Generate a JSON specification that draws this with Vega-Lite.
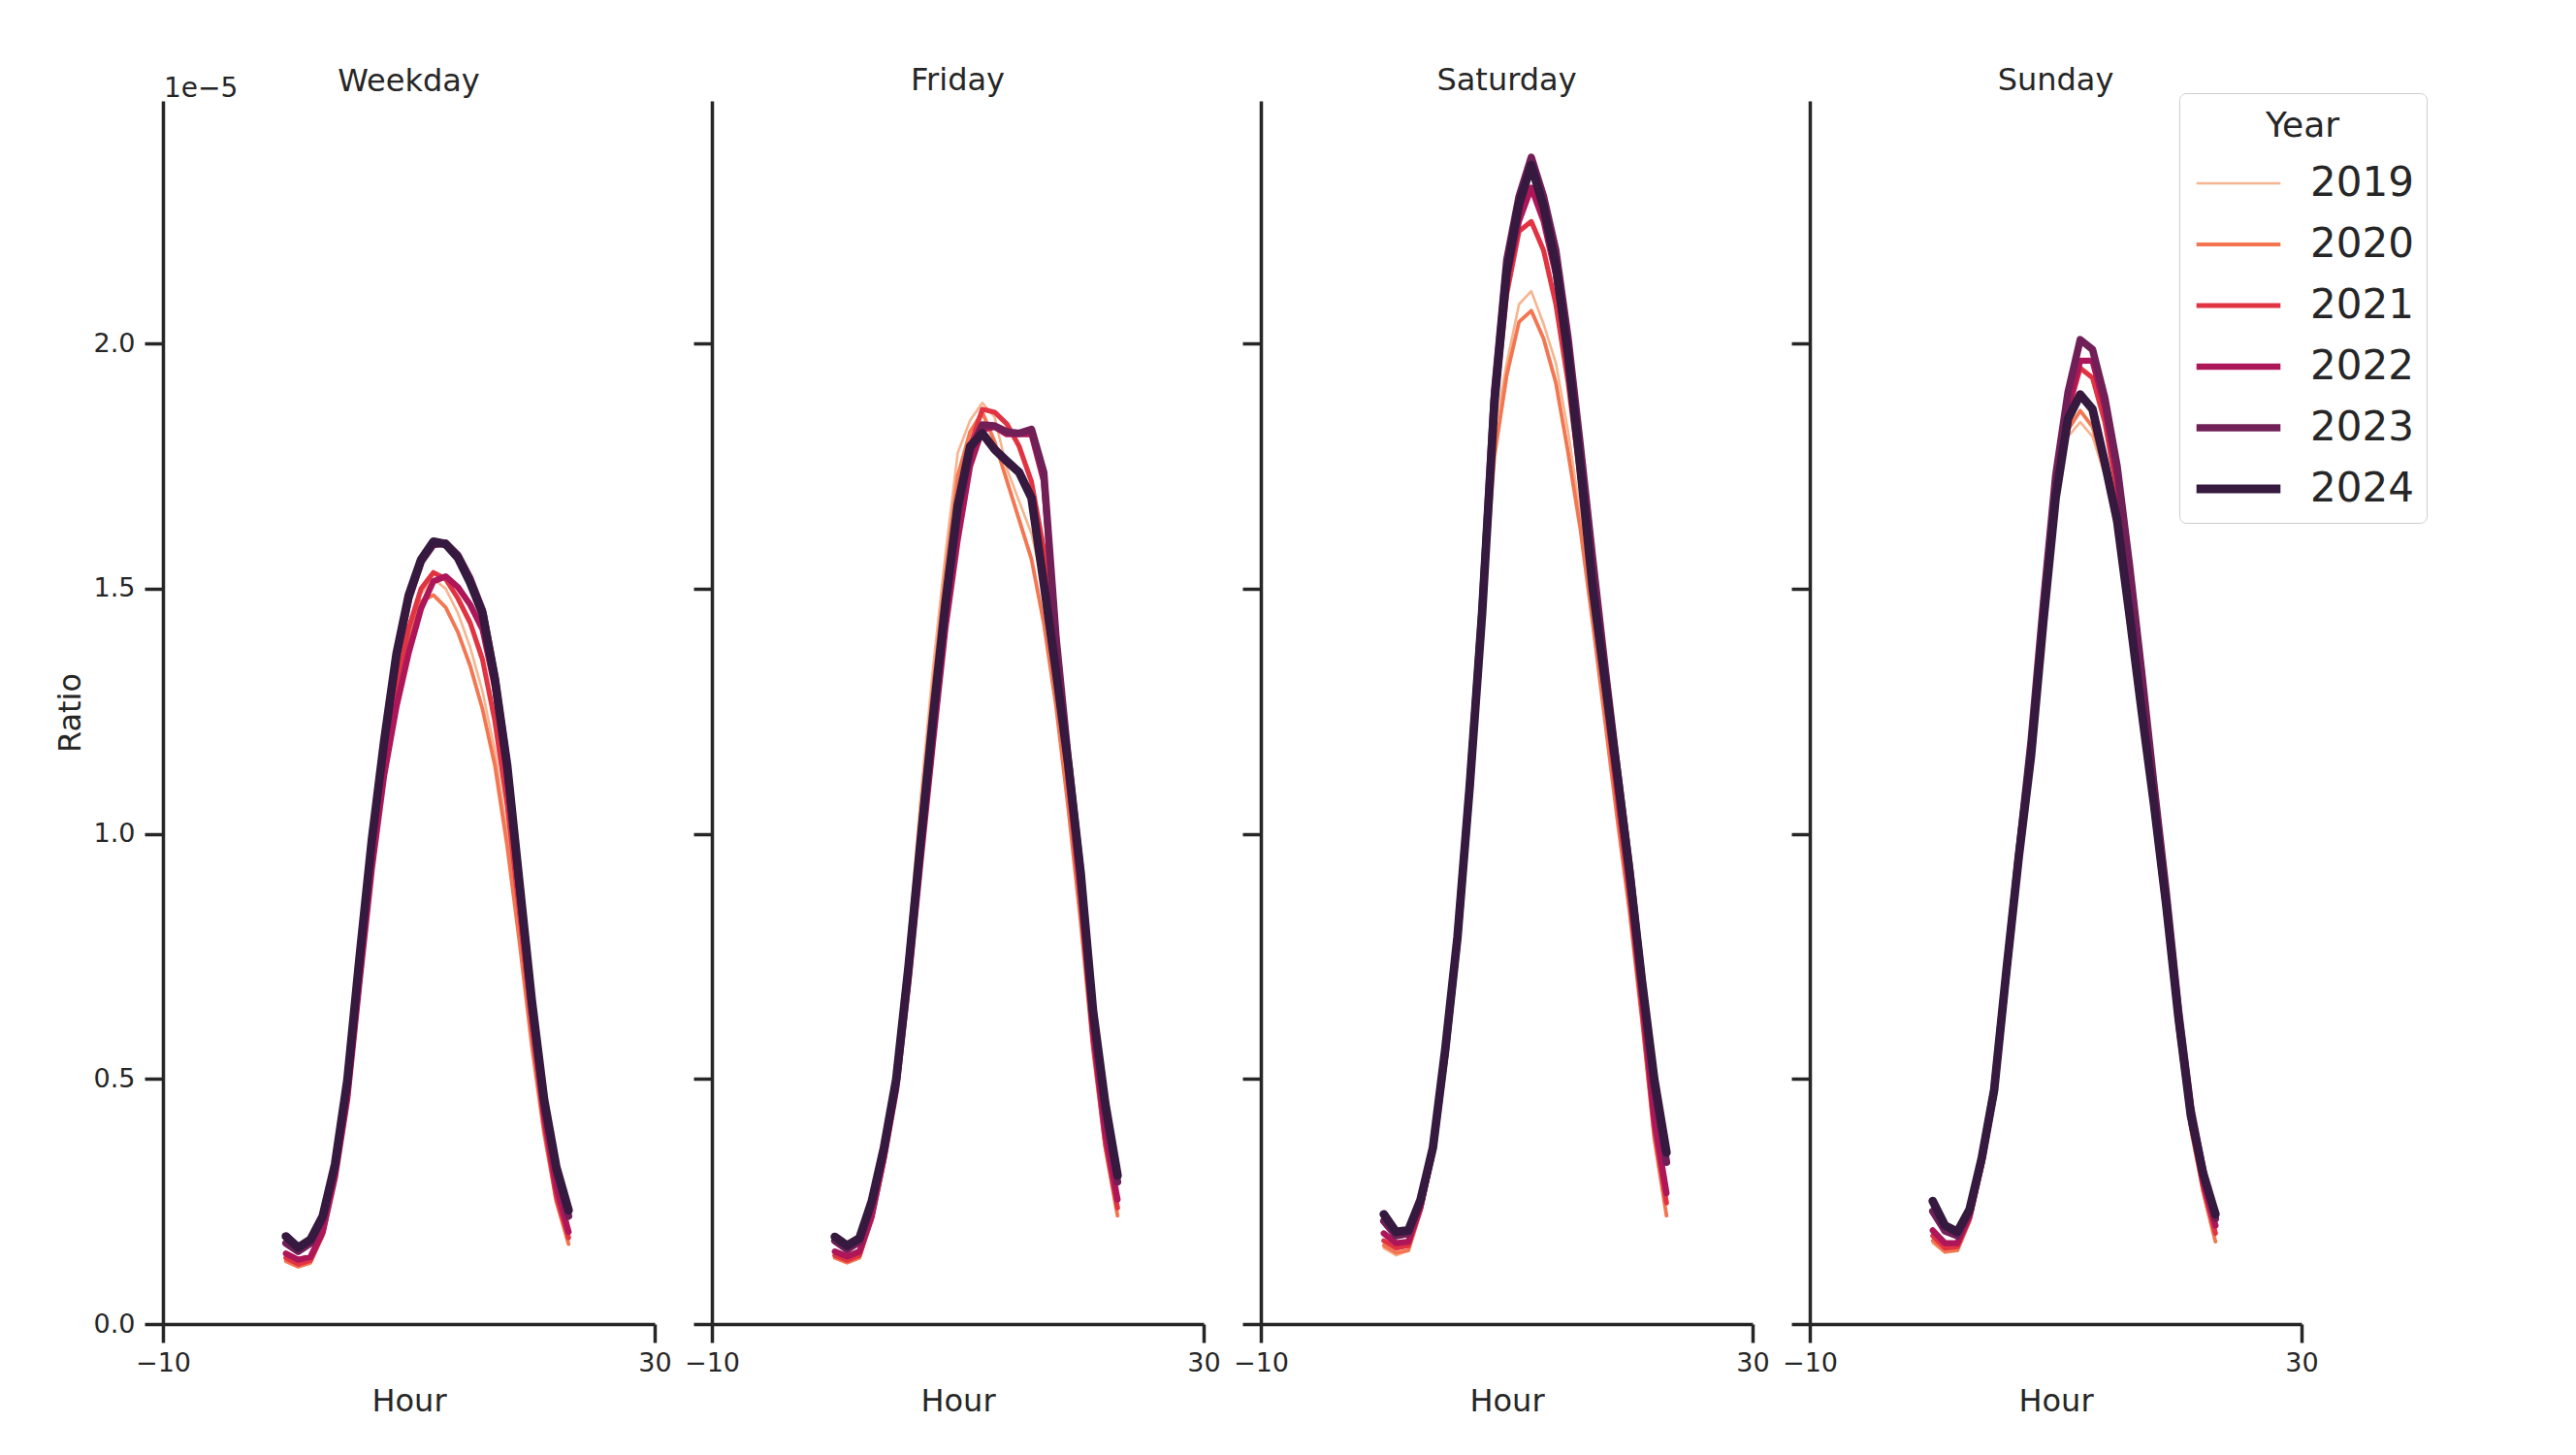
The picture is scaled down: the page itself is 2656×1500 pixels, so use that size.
{
"$schema":"https://vega.github.io/schema/vega-lite/v6.json",
"background":"white",
"padding":{"left":56,"top":67,"right":5,"bottom":5},
"bounds":"flush",
"spacing":59,
"data":{"values":[
{"Day":"Weekday","Year":2019,"Hour":0,"Ratio":0.13e-5},{"Day":"Weekday","Year":2019,"Hour":1,"Ratio":0.12e-5},{"Day":"Weekday","Year":2019,"Hour":2,"Ratio":0.128e-5},{"Day":"Weekday","Year":2019,"Hour":3,"Ratio":0.185e-5},{"Day":"Weekday","Year":2019,"Hour":4,"Ratio":0.31e-5},{"Day":"Weekday","Year":2019,"Hour":5,"Ratio":0.47e-5},{"Day":"Weekday","Year":2019,"Hour":6,"Ratio":0.71e-5},{"Day":"Weekday","Year":2019,"Hour":7,"Ratio":0.95e-5},{"Day":"Weekday","Year":2019,"Hour":8,"Ratio":1.14e-5},{"Day":"Weekday","Year":2019,"Hour":9,"Ratio":1.30e-5},{"Day":"Weekday","Year":2019,"Hour":10,"Ratio":1.41e-5},{"Day":"Weekday","Year":2019,"Hour":11,"Ratio":1.49e-5},{"Day":"Weekday","Year":2019,"Hour":12,"Ratio":1.52e-5},{"Day":"Weekday","Year":2019,"Hour":13,"Ratio":1.50e-5},{"Day":"Weekday","Year":2019,"Hour":14,"Ratio":1.45e-5},{"Day":"Weekday","Year":2019,"Hour":15,"Ratio":1.38e-5},{"Day":"Weekday","Year":2019,"Hour":16,"Ratio":1.29e-5},{"Day":"Weekday","Year":2019,"Hour":17,"Ratio":1.17e-5},{"Day":"Weekday","Year":2019,"Hour":18,"Ratio":1.0e-5},{"Day":"Weekday","Year":2019,"Hour":19,"Ratio":0.80e-5},{"Day":"Weekday","Year":2019,"Hour":20,"Ratio":0.585e-5},{"Day":"Weekday","Year":2019,"Hour":21,"Ratio":0.40e-5},{"Day":"Weekday","Year":2019,"Hour":22,"Ratio":0.255e-5},{"Day":"Weekday","Year":2019,"Hour":23,"Ratio":0.168e-5},
{"Day":"Weekday","Year":2020,"Hour":0,"Ratio":0.128e-5},{"Day":"Weekday","Year":2020,"Hour":1,"Ratio":0.117e-5},{"Day":"Weekday","Year":2020,"Hour":2,"Ratio":0.125e-5},{"Day":"Weekday","Year":2020,"Hour":3,"Ratio":0.18e-5},{"Day":"Weekday","Year":2020,"Hour":4,"Ratio":0.30e-5},{"Day":"Weekday","Year":2020,"Hour":5,"Ratio":0.46e-5},{"Day":"Weekday","Year":2020,"Hour":6,"Ratio":0.70e-5},{"Day":"Weekday","Year":2020,"Hour":7,"Ratio":0.94e-5},{"Day":"Weekday","Year":2020,"Hour":8,"Ratio":1.13e-5},{"Day":"Weekday","Year":2020,"Hour":9,"Ratio":1.29e-5},{"Day":"Weekday","Year":2020,"Hour":10,"Ratio":1.40e-5},{"Day":"Weekday","Year":2020,"Hour":11,"Ratio":1.474e-5},{"Day":"Weekday","Year":2020,"Hour":12,"Ratio":1.487e-5},{"Day":"Weekday","Year":2020,"Hour":13,"Ratio":1.462e-5},{"Day":"Weekday","Year":2020,"Hour":14,"Ratio":1.411e-5},{"Day":"Weekday","Year":2020,"Hour":15,"Ratio":1.342e-5},{"Day":"Weekday","Year":2020,"Hour":16,"Ratio":1.254e-5},{"Day":"Weekday","Year":2020,"Hour":17,"Ratio":1.14e-5},{"Day":"Weekday","Year":2020,"Hour":18,"Ratio":0.976e-5},{"Day":"Weekday","Year":2020,"Hour":19,"Ratio":0.78e-5},{"Day":"Weekday","Year":2020,"Hour":20,"Ratio":0.57e-5},{"Day":"Weekday","Year":2020,"Hour":21,"Ratio":0.39e-5},{"Day":"Weekday","Year":2020,"Hour":22,"Ratio":0.25e-5},{"Day":"Weekday","Year":2020,"Hour":23,"Ratio":0.163e-5},
{"Day":"Weekday","Year":2021,"Hour":0,"Ratio":0.135e-5},{"Day":"Weekday","Year":2021,"Hour":1,"Ratio":0.122e-5},{"Day":"Weekday","Year":2021,"Hour":2,"Ratio":0.13e-5},{"Day":"Weekday","Year":2021,"Hour":3,"Ratio":0.185e-5},{"Day":"Weekday","Year":2021,"Hour":4,"Ratio":0.30e-5},{"Day":"Weekday","Year":2021,"Hour":5,"Ratio":0.46e-5},{"Day":"Weekday","Year":2021,"Hour":6,"Ratio":0.70e-5},{"Day":"Weekday","Year":2021,"Hour":7,"Ratio":0.94e-5},{"Day":"Weekday","Year":2021,"Hour":8,"Ratio":1.13e-5},{"Day":"Weekday","Year":2021,"Hour":9,"Ratio":1.30e-5},{"Day":"Weekday","Year":2021,"Hour":10,"Ratio":1.42e-5},{"Day":"Weekday","Year":2021,"Hour":11,"Ratio":1.50e-5},{"Day":"Weekday","Year":2021,"Hour":12,"Ratio":1.533e-5},{"Day":"Weekday","Year":2021,"Hour":13,"Ratio":1.52e-5},{"Day":"Weekday","Year":2021,"Hour":14,"Ratio":1.48e-5},{"Day":"Weekday","Year":2021,"Hour":15,"Ratio":1.43e-5},{"Day":"Weekday","Year":2021,"Hour":16,"Ratio":1.355e-5},{"Day":"Weekday","Year":2021,"Hour":17,"Ratio":1.23e-5},{"Day":"Weekday","Year":2021,"Hour":18,"Ratio":1.06e-5},{"Day":"Weekday","Year":2021,"Hour":19,"Ratio":0.84e-5},{"Day":"Weekday","Year":2021,"Hour":20,"Ratio":0.61e-5},{"Day":"Weekday","Year":2021,"Hour":21,"Ratio":0.41e-5},{"Day":"Weekday","Year":2021,"Hour":22,"Ratio":0.26e-5},{"Day":"Weekday","Year":2021,"Hour":23,"Ratio":0.176e-5},
{"Day":"Weekday","Year":2022,"Hour":0,"Ratio":0.144e-5},{"Day":"Weekday","Year":2022,"Hour":1,"Ratio":0.131e-5},{"Day":"Weekday","Year":2022,"Hour":2,"Ratio":0.137e-5},{"Day":"Weekday","Year":2022,"Hour":3,"Ratio":0.188e-5},{"Day":"Weekday","Year":2022,"Hour":4,"Ratio":0.30e-5},{"Day":"Weekday","Year":2022,"Hour":5,"Ratio":0.46e-5},{"Day":"Weekday","Year":2022,"Hour":6,"Ratio":0.70e-5},{"Day":"Weekday","Year":2022,"Hour":7,"Ratio":0.93e-5},{"Day":"Weekday","Year":2022,"Hour":8,"Ratio":1.12e-5},{"Day":"Weekday","Year":2022,"Hour":9,"Ratio":1.26e-5},{"Day":"Weekday","Year":2022,"Hour":10,"Ratio":1.37e-5},{"Day":"Weekday","Year":2022,"Hour":11,"Ratio":1.46e-5},{"Day":"Weekday","Year":2022,"Hour":12,"Ratio":1.515e-5},{"Day":"Weekday","Year":2022,"Hour":13,"Ratio":1.525e-5},{"Day":"Weekday","Year":2022,"Hour":14,"Ratio":1.503e-5},{"Day":"Weekday","Year":2022,"Hour":15,"Ratio":1.467e-5},{"Day":"Weekday","Year":2022,"Hour":16,"Ratio":1.417e-5},{"Day":"Weekday","Year":2022,"Hour":17,"Ratio":1.30e-5},{"Day":"Weekday","Year":2022,"Hour":18,"Ratio":1.12e-5},{"Day":"Weekday","Year":2022,"Hour":19,"Ratio":0.88e-5},{"Day":"Weekday","Year":2022,"Hour":20,"Ratio":0.64e-5},{"Day":"Weekday","Year":2022,"Hour":21,"Ratio":0.43e-5},{"Day":"Weekday","Year":2022,"Hour":22,"Ratio":0.28e-5},{"Day":"Weekday","Year":2022,"Hour":23,"Ratio":0.188e-5},
{"Day":"Weekday","Year":2023,"Hour":0,"Ratio":0.165e-5},{"Day":"Weekday","Year":2023,"Hour":1,"Ratio":0.148e-5},{"Day":"Weekday","Year":2023,"Hour":2,"Ratio":0.165e-5},{"Day":"Weekday","Year":2023,"Hour":3,"Ratio":0.215e-5},{"Day":"Weekday","Year":2023,"Hour":4,"Ratio":0.325e-5},{"Day":"Weekday","Year":2023,"Hour":5,"Ratio":0.495e-5},{"Day":"Weekday","Year":2023,"Hour":6,"Ratio":0.745e-5},{"Day":"Weekday","Year":2023,"Hour":7,"Ratio":0.985e-5},{"Day":"Weekday","Year":2023,"Hour":8,"Ratio":1.185e-5},{"Day":"Weekday","Year":2023,"Hour":9,"Ratio":1.36e-5},{"Day":"Weekday","Year":2023,"Hour":10,"Ratio":1.48e-5},{"Day":"Weekday","Year":2023,"Hour":11,"Ratio":1.555e-5},{"Day":"Weekday","Year":2023,"Hour":12,"Ratio":1.59e-5},{"Day":"Weekday","Year":2023,"Hour":13,"Ratio":1.593e-5},{"Day":"Weekday","Year":2023,"Hour":14,"Ratio":1.568e-5},{"Day":"Weekday","Year":2023,"Hour":15,"Ratio":1.52e-5},{"Day":"Weekday","Year":2023,"Hour":16,"Ratio":1.455e-5},{"Day":"Weekday","Year":2023,"Hour":17,"Ratio":1.32e-5},{"Day":"Weekday","Year":2023,"Hour":18,"Ratio":1.14e-5},{"Day":"Weekday","Year":2023,"Hour":19,"Ratio":0.89e-5},{"Day":"Weekday","Year":2023,"Hour":20,"Ratio":0.65e-5},{"Day":"Weekday","Year":2023,"Hour":21,"Ratio":0.45e-5},{"Day":"Weekday","Year":2023,"Hour":22,"Ratio":0.31e-5},{"Day":"Weekday","Year":2023,"Hour":23,"Ratio":0.22e-5},
{"Day":"Weekday","Year":2024,"Hour":0,"Ratio":0.179e-5},{"Day":"Weekday","Year":2024,"Hour":1,"Ratio":0.156e-5},{"Day":"Weekday","Year":2024,"Hour":2,"Ratio":0.172e-5},{"Day":"Weekday","Year":2024,"Hour":3,"Ratio":0.22e-5},{"Day":"Weekday","Year":2024,"Hour":4,"Ratio":0.326e-5},{"Day":"Weekday","Year":2024,"Hour":5,"Ratio":0.497e-5},{"Day":"Weekday","Year":2024,"Hour":6,"Ratio":0.749e-5},{"Day":"Weekday","Year":2024,"Hour":7,"Ratio":0.989e-5},{"Day":"Weekday","Year":2024,"Hour":8,"Ratio":1.19e-5},{"Day":"Weekday","Year":2024,"Hour":9,"Ratio":1.367e-5},{"Day":"Weekday","Year":2024,"Hour":10,"Ratio":1.487e-5},{"Day":"Weekday","Year":2024,"Hour":11,"Ratio":1.559e-5},{"Day":"Weekday","Year":2024,"Hour":12,"Ratio":1.596e-5},{"Day":"Weekday","Year":2024,"Hour":13,"Ratio":1.591e-5},{"Day":"Weekday","Year":2024,"Hour":14,"Ratio":1.563e-5},{"Day":"Weekday","Year":2024,"Hour":15,"Ratio":1.512e-5},{"Day":"Weekday","Year":2024,"Hour":16,"Ratio":1.449e-5},{"Day":"Weekday","Year":2024,"Hour":17,"Ratio":1.316e-5},{"Day":"Weekday","Year":2024,"Hour":18,"Ratio":1.14e-5},{"Day":"Weekday","Year":2024,"Hour":19,"Ratio":0.90e-5},{"Day":"Weekday","Year":2024,"Hour":20,"Ratio":0.661e-5},{"Day":"Weekday","Year":2024,"Hour":21,"Ratio":0.459e-5},{"Day":"Weekday","Year":2024,"Hour":22,"Ratio":0.32e-5},{"Day":"Weekday","Year":2024,"Hour":23,"Ratio":0.232e-5},
{"Day":"Friday","Year":2019,"Hour":0,"Ratio":0.135e-5},{"Day":"Friday","Year":2019,"Hour":1,"Ratio":0.125e-5},{"Day":"Friday","Year":2019,"Hour":2,"Ratio":0.135e-5},{"Day":"Friday","Year":2019,"Hour":3,"Ratio":0.22e-5},{"Day":"Friday","Year":2019,"Hour":4,"Ratio":0.35e-5},{"Day":"Friday","Year":2019,"Hour":5,"Ratio":0.52e-5},{"Day":"Friday","Year":2019,"Hour":6,"Ratio":0.78e-5},{"Day":"Friday","Year":2019,"Hour":7,"Ratio":1.08e-5},{"Day":"Friday","Year":2019,"Hour":8,"Ratio":1.34e-5},{"Day":"Friday","Year":2019,"Hour":9,"Ratio":1.57e-5},{"Day":"Friday","Year":2019,"Hour":10,"Ratio":1.777e-5},{"Day":"Friday","Year":2019,"Hour":11,"Ratio":1.843e-5},{"Day":"Friday","Year":2019,"Hour":12,"Ratio":1.879e-5},{"Day":"Friday","Year":2019,"Hour":13,"Ratio":1.85e-5},{"Day":"Friday","Year":2019,"Hour":14,"Ratio":1.744e-5},{"Day":"Friday","Year":2019,"Hour":15,"Ratio":1.678e-5},{"Day":"Friday","Year":2019,"Hour":16,"Ratio":1.612e-5},{"Day":"Friday","Year":2019,"Hour":17,"Ratio":1.5e-5},{"Day":"Friday","Year":2019,"Hour":18,"Ratio":1.3e-5},{"Day":"Friday","Year":2019,"Hour":19,"Ratio":1.08e-5},{"Day":"Friday","Year":2019,"Hour":20,"Ratio":0.84e-5},{"Day":"Friday","Year":2019,"Hour":21,"Ratio":0.57e-5},{"Day":"Friday","Year":2019,"Hour":22,"Ratio":0.36e-5},{"Day":"Friday","Year":2019,"Hour":23,"Ratio":0.22e-5},
{"Day":"Friday","Year":2020,"Hour":0,"Ratio":0.135e-5},{"Day":"Friday","Year":2020,"Hour":1,"Ratio":0.125e-5},{"Day":"Friday","Year":2020,"Hour":2,"Ratio":0.135e-5},{"Day":"Friday","Year":2020,"Hour":3,"Ratio":0.215e-5},{"Day":"Friday","Year":2020,"Hour":4,"Ratio":0.34e-5},{"Day":"Friday","Year":2020,"Hour":5,"Ratio":0.5e-5},{"Day":"Friday","Year":2020,"Hour":6,"Ratio":0.75e-5},{"Day":"Friday","Year":2020,"Hour":7,"Ratio":1.04e-5},{"Day":"Friday","Year":2020,"Hour":8,"Ratio":1.3e-5},{"Day":"Friday","Year":2020,"Hour":9,"Ratio":1.53e-5},{"Day":"Friday","Year":2020,"Hour":10,"Ratio":1.73e-5},{"Day":"Friday","Year":2020,"Hour":11,"Ratio":1.82e-5},{"Day":"Friday","Year":2020,"Hour":12,"Ratio":1.86e-5},{"Day":"Friday","Year":2020,"Hour":13,"Ratio":1.8e-5},{"Day":"Friday","Year":2020,"Hour":14,"Ratio":1.72e-5},{"Day":"Friday","Year":2020,"Hour":15,"Ratio":1.64e-5},{"Day":"Friday","Year":2020,"Hour":16,"Ratio":1.56e-5},{"Day":"Friday","Year":2020,"Hour":17,"Ratio":1.43e-5},{"Day":"Friday","Year":2020,"Hour":18,"Ratio":1.26e-5},{"Day":"Friday","Year":2020,"Hour":19,"Ratio":1.05e-5},{"Day":"Friday","Year":2020,"Hour":20,"Ratio":0.82e-5},{"Day":"Friday","Year":2020,"Hour":21,"Ratio":0.56e-5},{"Day":"Friday","Year":2020,"Hour":22,"Ratio":0.36e-5},{"Day":"Friday","Year":2020,"Hour":23,"Ratio":0.221e-5},
{"Day":"Friday","Year":2021,"Hour":0,"Ratio":0.14e-5},{"Day":"Friday","Year":2021,"Hour":1,"Ratio":0.13e-5},{"Day":"Friday","Year":2021,"Hour":2,"Ratio":0.14e-5},{"Day":"Friday","Year":2021,"Hour":3,"Ratio":0.215e-5},{"Day":"Friday","Year":2021,"Hour":4,"Ratio":0.335e-5},{"Day":"Friday","Year":2021,"Hour":5,"Ratio":0.48e-5},{"Day":"Friday","Year":2021,"Hour":6,"Ratio":0.71e-5},{"Day":"Friday","Year":2021,"Hour":7,"Ratio":0.98e-5},{"Day":"Friday","Year":2021,"Hour":8,"Ratio":1.22e-5},{"Day":"Friday","Year":2021,"Hour":9,"Ratio":1.45e-5},{"Day":"Friday","Year":2021,"Hour":10,"Ratio":1.65e-5},{"Day":"Friday","Year":2021,"Hour":11,"Ratio":1.79e-5},{"Day":"Friday","Year":2021,"Hour":12,"Ratio":1.866e-5},{"Day":"Friday","Year":2021,"Hour":13,"Ratio":1.86e-5},{"Day":"Friday","Year":2021,"Hour":14,"Ratio":1.836e-5},{"Day":"Friday","Year":2021,"Hour":15,"Ratio":1.79e-5},{"Day":"Friday","Year":2021,"Hour":16,"Ratio":1.718e-5},{"Day":"Friday","Year":2021,"Hour":17,"Ratio":1.58e-5},{"Day":"Friday","Year":2021,"Hour":18,"Ratio":1.36e-5},{"Day":"Friday","Year":2021,"Hour":19,"Ratio":1.1e-5},{"Day":"Friday","Year":2021,"Hour":20,"Ratio":0.86e-5},{"Day":"Friday","Year":2021,"Hour":21,"Ratio":0.58e-5},{"Day":"Friday","Year":2021,"Hour":22,"Ratio":0.37e-5},{"Day":"Friday","Year":2021,"Hour":23,"Ratio":0.237e-5},
{"Day":"Friday","Year":2022,"Hour":0,"Ratio":0.148e-5},{"Day":"Friday","Year":2022,"Hour":1,"Ratio":0.138e-5},{"Day":"Friday","Year":2022,"Hour":2,"Ratio":0.148e-5},{"Day":"Friday","Year":2022,"Hour":3,"Ratio":0.22e-5},{"Day":"Friday","Year":2022,"Hour":4,"Ratio":0.34e-5},{"Day":"Friday","Year":2022,"Hour":5,"Ratio":0.48e-5},{"Day":"Friday","Year":2022,"Hour":6,"Ratio":0.70e-5},{"Day":"Friday","Year":2022,"Hour":7,"Ratio":0.95e-5},{"Day":"Friday","Year":2022,"Hour":8,"Ratio":1.19e-5},{"Day":"Friday","Year":2022,"Hour":9,"Ratio":1.42e-5},{"Day":"Friday","Year":2022,"Hour":10,"Ratio":1.6e-5},{"Day":"Friday","Year":2022,"Hour":11,"Ratio":1.75e-5},{"Day":"Friday","Year":2022,"Hour":12,"Ratio":1.825e-5},{"Day":"Friday","Year":2022,"Hour":13,"Ratio":1.83e-5},{"Day":"Friday","Year":2022,"Hour":14,"Ratio":1.815e-5},{"Day":"Friday","Year":2022,"Hour":15,"Ratio":1.815e-5},{"Day":"Friday","Year":2022,"Hour":16,"Ratio":1.815e-5},{"Day":"Friday","Year":2022,"Hour":17,"Ratio":1.72e-5},{"Day":"Friday","Year":2022,"Hour":18,"Ratio":1.40e-5},{"Day":"Friday","Year":2022,"Hour":19,"Ratio":1.13e-5},{"Day":"Friday","Year":2022,"Hour":20,"Ratio":0.89e-5},{"Day":"Friday","Year":2022,"Hour":21,"Ratio":0.6e-5},{"Day":"Friday","Year":2022,"Hour":22,"Ratio":0.39e-5},{"Day":"Friday","Year":2022,"Hour":23,"Ratio":0.254e-5},
{"Day":"Friday","Year":2023,"Hour":0,"Ratio":0.17e-5},{"Day":"Friday","Year":2023,"Hour":1,"Ratio":0.152e-5},{"Day":"Friday","Year":2023,"Hour":2,"Ratio":0.168e-5},{"Day":"Friday","Year":2023,"Hour":3,"Ratio":0.245e-5},{"Day":"Friday","Year":2023,"Hour":4,"Ratio":0.355e-5},{"Day":"Friday","Year":2023,"Hour":5,"Ratio":0.5e-5},{"Day":"Friday","Year":2023,"Hour":6,"Ratio":0.73e-5},{"Day":"Friday","Year":2023,"Hour":7,"Ratio":0.99e-5},{"Day":"Friday","Year":2023,"Hour":8,"Ratio":1.24e-5},{"Day":"Friday","Year":2023,"Hour":9,"Ratio":1.46e-5},{"Day":"Friday","Year":2023,"Hour":10,"Ratio":1.65e-5},{"Day":"Friday","Year":2023,"Hour":11,"Ratio":1.78e-5},{"Day":"Friday","Year":2023,"Hour":12,"Ratio":1.834e-5},{"Day":"Friday","Year":2023,"Hour":13,"Ratio":1.832e-5},{"Day":"Friday","Year":2023,"Hour":14,"Ratio":1.82e-5},{"Day":"Friday","Year":2023,"Hour":15,"Ratio":1.817e-5},{"Day":"Friday","Year":2023,"Hour":16,"Ratio":1.825e-5},{"Day":"Friday","Year":2023,"Hour":17,"Ratio":1.737e-5},{"Day":"Friday","Year":2023,"Hour":18,"Ratio":1.40e-5},{"Day":"Friday","Year":2023,"Hour":19,"Ratio":1.15e-5},{"Day":"Friday","Year":2023,"Hour":20,"Ratio":0.92e-5},{"Day":"Friday","Year":2023,"Hour":21,"Ratio":0.63e-5},{"Day":"Friday","Year":2023,"Hour":22,"Ratio":0.43e-5},{"Day":"Friday","Year":2023,"Hour":23,"Ratio":0.29e-5},
{"Day":"Friday","Year":2024,"Hour":0,"Ratio":0.178e-5},{"Day":"Friday","Year":2024,"Hour":1,"Ratio":0.16e-5},{"Day":"Friday","Year":2024,"Hour":2,"Ratio":0.175e-5},{"Day":"Friday","Year":2024,"Hour":3,"Ratio":0.25e-5},{"Day":"Friday","Year":2024,"Hour":4,"Ratio":0.36e-5},{"Day":"Friday","Year":2024,"Hour":5,"Ratio":0.5e-5},{"Day":"Friday","Year":2024,"Hour":6,"Ratio":0.73e-5},{"Day":"Friday","Year":2024,"Hour":7,"Ratio":0.99e-5},{"Day":"Friday","Year":2024,"Hour":8,"Ratio":1.24e-5},{"Day":"Friday","Year":2024,"Hour":9,"Ratio":1.47e-5},{"Day":"Friday","Year":2024,"Hour":10,"Ratio":1.67e-5},{"Day":"Friday","Year":2024,"Hour":11,"Ratio":1.79e-5},{"Day":"Friday","Year":2024,"Hour":12,"Ratio":1.817e-5},{"Day":"Friday","Year":2024,"Hour":13,"Ratio":1.784e-5},{"Day":"Friday","Year":2024,"Hour":14,"Ratio":1.76e-5},{"Day":"Friday","Year":2024,"Hour":15,"Ratio":1.737e-5},{"Day":"Friday","Year":2024,"Hour":16,"Ratio":1.685e-5},{"Day":"Friday","Year":2024,"Hour":17,"Ratio":1.51e-5},{"Day":"Friday","Year":2024,"Hour":18,"Ratio":1.33e-5},{"Day":"Friday","Year":2024,"Hour":19,"Ratio":1.14e-5},{"Day":"Friday","Year":2024,"Hour":20,"Ratio":0.92e-5},{"Day":"Friday","Year":2024,"Hour":21,"Ratio":0.64e-5},{"Day":"Friday","Year":2024,"Hour":22,"Ratio":0.45e-5},{"Day":"Friday","Year":2024,"Hour":23,"Ratio":0.303e-5},
{"Day":"Saturday","Year":2019,"Hour":0,"Ratio":0.155e-5},{"Day":"Saturday","Year":2019,"Hour":1,"Ratio":0.14e-5},{"Day":"Saturday","Year":2019,"Hour":2,"Ratio":0.15e-5},{"Day":"Saturday","Year":2019,"Hour":3,"Ratio":0.23e-5},{"Day":"Saturday","Year":2019,"Hour":4,"Ratio":0.35e-5},{"Day":"Saturday","Year":2019,"Hour":5,"Ratio":0.54e-5},{"Day":"Saturday","Year":2019,"Hour":6,"Ratio":0.78e-5},{"Day":"Saturday","Year":2019,"Hour":7,"Ratio":1.09e-5},{"Day":"Saturday","Year":2019,"Hour":8,"Ratio":1.44e-5},{"Day":"Saturday","Year":2019,"Hour":9,"Ratio":1.82e-5},{"Day":"Saturday","Year":2019,"Hour":10,"Ratio":1.96e-5},{"Day":"Saturday","Year":2019,"Hour":11,"Ratio":2.08e-5},{"Day":"Saturday","Year":2019,"Hour":12,"Ratio":2.107e-5},{"Day":"Saturday","Year":2019,"Hour":13,"Ratio":2.04e-5},{"Day":"Saturday","Year":2019,"Hour":14,"Ratio":1.96e-5},{"Day":"Saturday","Year":2019,"Hour":15,"Ratio":1.82e-5},{"Day":"Saturday","Year":2019,"Hour":16,"Ratio":1.65e-5},{"Day":"Saturday","Year":2019,"Hour":17,"Ratio":1.45e-5},{"Day":"Saturday","Year":2019,"Hour":18,"Ratio":1.25e-5},{"Day":"Saturday","Year":2019,"Hour":19,"Ratio":1.04e-5},{"Day":"Saturday","Year":2019,"Hour":20,"Ratio":0.85e-5},{"Day":"Saturday","Year":2019,"Hour":21,"Ratio":0.62e-5},{"Day":"Saturday","Year":2019,"Hour":22,"Ratio":0.38e-5},{"Day":"Saturday","Year":2019,"Hour":23,"Ratio":0.22e-5},
{"Day":"Saturday","Year":2020,"Hour":0,"Ratio":0.16e-5},{"Day":"Saturday","Year":2020,"Hour":1,"Ratio":0.145e-5},{"Day":"Saturday","Year":2020,"Hour":2,"Ratio":0.15e-5},{"Day":"Saturday","Year":2020,"Hour":3,"Ratio":0.23e-5},{"Day":"Saturday","Year":2020,"Hour":4,"Ratio":0.35e-5},{"Day":"Saturday","Year":2020,"Hour":5,"Ratio":0.54e-5},{"Day":"Saturday","Year":2020,"Hour":6,"Ratio":0.78e-5},{"Day":"Saturday","Year":2020,"Hour":7,"Ratio":1.09e-5},{"Day":"Saturday","Year":2020,"Hour":8,"Ratio":1.44e-5},{"Day":"Saturday","Year":2020,"Hour":9,"Ratio":1.77e-5},{"Day":"Saturday","Year":2020,"Hour":10,"Ratio":1.935e-5},{"Day":"Saturday","Year":2020,"Hour":11,"Ratio":2.044e-5},{"Day":"Saturday","Year":2020,"Hour":12,"Ratio":2.067e-5},{"Day":"Saturday","Year":2020,"Hour":13,"Ratio":2.01e-5},{"Day":"Saturday","Year":2020,"Hour":14,"Ratio":1.92e-5},{"Day":"Saturday","Year":2020,"Hour":15,"Ratio":1.777e-5},{"Day":"Saturday","Year":2020,"Hour":16,"Ratio":1.62e-5},{"Day":"Saturday","Year":2020,"Hour":17,"Ratio":1.43e-5},{"Day":"Saturday","Year":2020,"Hour":18,"Ratio":1.23e-5},{"Day":"Saturday","Year":2020,"Hour":19,"Ratio":1.03e-5},{"Day":"Saturday","Year":2020,"Hour":20,"Ratio":0.84e-5},{"Day":"Saturday","Year":2020,"Hour":21,"Ratio":0.62e-5},{"Day":"Saturday","Year":2020,"Hour":22,"Ratio":0.38e-5},{"Day":"Saturday","Year":2020,"Hour":23,"Ratio":0.221e-5},
{"Day":"Saturday","Year":2021,"Hour":0,"Ratio":0.17e-5},{"Day":"Saturday","Year":2021,"Hour":1,"Ratio":0.155e-5},{"Day":"Saturday","Year":2021,"Hour":2,"Ratio":0.16e-5},{"Day":"Saturday","Year":2021,"Hour":3,"Ratio":0.235e-5},{"Day":"Saturday","Year":2021,"Hour":4,"Ratio":0.35e-5},{"Day":"Saturday","Year":2021,"Hour":5,"Ratio":0.545e-5},{"Day":"Saturday","Year":2021,"Hour":6,"Ratio":0.78e-5},{"Day":"Saturday","Year":2021,"Hour":7,"Ratio":1.09e-5},{"Day":"Saturday","Year":2021,"Hour":8,"Ratio":1.45e-5},{"Day":"Saturday","Year":2021,"Hour":9,"Ratio":1.86e-5},{"Day":"Saturday","Year":2021,"Hour":10,"Ratio":2.1e-5},{"Day":"Saturday","Year":2021,"Hour":11,"Ratio":2.229e-5},{"Day":"Saturday","Year":2021,"Hour":12,"Ratio":2.249e-5},{"Day":"Saturday","Year":2021,"Hour":13,"Ratio":2.19e-5},{"Day":"Saturday","Year":2021,"Hour":14,"Ratio":2.08e-5},{"Day":"Saturday","Year":2021,"Hour":15,"Ratio":1.92e-5},{"Day":"Saturday","Year":2021,"Hour":16,"Ratio":1.72e-5},{"Day":"Saturday","Year":2021,"Hour":17,"Ratio":1.5e-5},{"Day":"Saturday","Year":2021,"Hour":18,"Ratio":1.28e-5},{"Day":"Saturday","Year":2021,"Hour":19,"Ratio":1.07e-5},{"Day":"Saturday","Year":2021,"Hour":20,"Ratio":0.87e-5},{"Day":"Saturday","Year":2021,"Hour":21,"Ratio":0.64e-5},{"Day":"Saturday","Year":2021,"Hour":22,"Ratio":0.4e-5},{"Day":"Saturday","Year":2021,"Hour":23,"Ratio":0.247e-5},
{"Day":"Saturday","Year":2022,"Hour":0,"Ratio":0.185e-5},{"Day":"Saturday","Year":2022,"Hour":1,"Ratio":0.165e-5},{"Day":"Saturday","Year":2022,"Hour":2,"Ratio":0.168e-5},{"Day":"Saturday","Year":2022,"Hour":3,"Ratio":0.24e-5},{"Day":"Saturday","Year":2022,"Hour":4,"Ratio":0.355e-5},{"Day":"Saturday","Year":2022,"Hour":5,"Ratio":0.55e-5},{"Day":"Saturday","Year":2022,"Hour":6,"Ratio":0.78e-5},{"Day":"Saturday","Year":2022,"Hour":7,"Ratio":1.09e-5},{"Day":"Saturday","Year":2022,"Hour":8,"Ratio":1.45e-5},{"Day":"Saturday","Year":2022,"Hour":9,"Ratio":1.87e-5},{"Day":"Saturday","Year":2022,"Hour":10,"Ratio":2.13e-5},{"Day":"Saturday","Year":2022,"Hour":11,"Ratio":2.25e-5},{"Day":"Saturday","Year":2022,"Hour":12,"Ratio":2.318e-5},{"Day":"Saturday","Year":2022,"Hour":13,"Ratio":2.25e-5},{"Day":"Saturday","Year":2022,"Hour":14,"Ratio":2.14e-5},{"Day":"Saturday","Year":2022,"Hour":15,"Ratio":1.97e-5},{"Day":"Saturday","Year":2022,"Hour":16,"Ratio":1.75e-5},{"Day":"Saturday","Year":2022,"Hour":17,"Ratio":1.52e-5},{"Day":"Saturday","Year":2022,"Hour":18,"Ratio":1.3e-5},{"Day":"Saturday","Year":2022,"Hour":19,"Ratio":1.1e-5},{"Day":"Saturday","Year":2022,"Hour":20,"Ratio":0.9e-5},{"Day":"Saturday","Year":2022,"Hour":21,"Ratio":0.67e-5},{"Day":"Saturday","Year":2022,"Hour":22,"Ratio":0.42e-5},{"Day":"Saturday","Year":2022,"Hour":23,"Ratio":0.267e-5},
{"Day":"Saturday","Year":2023,"Hour":0,"Ratio":0.21e-5},{"Day":"Saturday","Year":2023,"Hour":1,"Ratio":0.18e-5},{"Day":"Saturday","Year":2023,"Hour":2,"Ratio":0.185e-5},{"Day":"Saturday","Year":2023,"Hour":3,"Ratio":0.25e-5},{"Day":"Saturday","Year":2023,"Hour":4,"Ratio":0.36e-5},{"Day":"Saturday","Year":2023,"Hour":5,"Ratio":0.555e-5},{"Day":"Saturday","Year":2023,"Hour":6,"Ratio":0.79e-5},{"Day":"Saturday","Year":2023,"Hour":7,"Ratio":1.1e-5},{"Day":"Saturday","Year":2023,"Hour":8,"Ratio":1.46e-5},{"Day":"Saturday","Year":2023,"Hour":9,"Ratio":1.9e-5},{"Day":"Saturday","Year":2023,"Hour":10,"Ratio":2.17e-5},{"Day":"Saturday","Year":2023,"Hour":11,"Ratio":2.3e-5},{"Day":"Saturday","Year":2023,"Hour":12,"Ratio":2.38e-5},{"Day":"Saturday","Year":2023,"Hour":13,"Ratio":2.3e-5},{"Day":"Saturday","Year":2023,"Hour":14,"Ratio":2.19e-5},{"Day":"Saturday","Year":2023,"Hour":15,"Ratio":2.01e-5},{"Day":"Saturday","Year":2023,"Hour":16,"Ratio":1.79e-5},{"Day":"Saturday","Year":2023,"Hour":17,"Ratio":1.56e-5},{"Day":"Saturday","Year":2023,"Hour":18,"Ratio":1.34e-5},{"Day":"Saturday","Year":2023,"Hour":19,"Ratio":1.13e-5},{"Day":"Saturday","Year":2023,"Hour":20,"Ratio":0.93e-5},{"Day":"Saturday","Year":2023,"Hour":21,"Ratio":0.70e-5},{"Day":"Saturday","Year":2023,"Hour":22,"Ratio":0.48e-5},{"Day":"Saturday","Year":2023,"Hour":23,"Ratio":0.33e-5},
{"Day":"Saturday","Year":2024,"Hour":0,"Ratio":0.224e-5},{"Day":"Saturday","Year":2024,"Hour":1,"Ratio":0.188e-5},{"Day":"Saturday","Year":2024,"Hour":2,"Ratio":0.191e-5},{"Day":"Saturday","Year":2024,"Hour":3,"Ratio":0.254e-5},{"Day":"Saturday","Year":2024,"Hour":4,"Ratio":0.36e-5},{"Day":"Saturday","Year":2024,"Hour":5,"Ratio":0.56e-5},{"Day":"Saturday","Year":2024,"Hour":6,"Ratio":0.79e-5},{"Day":"Saturday","Year":2024,"Hour":7,"Ratio":1.1e-5},{"Day":"Saturday","Year":2024,"Hour":8,"Ratio":1.45e-5},{"Day":"Saturday","Year":2024,"Hour":9,"Ratio":1.88e-5},{"Day":"Saturday","Year":2024,"Hour":10,"Ratio":2.146e-5},{"Day":"Saturday","Year":2024,"Hour":11,"Ratio":2.285e-5},{"Day":"Saturday","Year":2024,"Hour":12,"Ratio":2.364e-5},{"Day":"Saturday","Year":2024,"Hour":13,"Ratio":2.279e-5},{"Day":"Saturday","Year":2024,"Hour":14,"Ratio":2.16e-5},{"Day":"Saturday","Year":2024,"Hour":15,"Ratio":1.975e-5},{"Day":"Saturday","Year":2024,"Hour":16,"Ratio":1.745e-5},{"Day":"Saturday","Year":2024,"Hour":17,"Ratio":1.5e-5},{"Day":"Saturday","Year":2024,"Hour":18,"Ratio":1.31e-5},{"Day":"Saturday","Year":2024,"Hour":19,"Ratio":1.12e-5},{"Day":"Saturday","Year":2024,"Hour":20,"Ratio":0.92e-5},{"Day":"Saturday","Year":2024,"Hour":21,"Ratio":0.70e-5},{"Day":"Saturday","Year":2024,"Hour":22,"Ratio":0.50e-5},{"Day":"Saturday","Year":2024,"Hour":23,"Ratio":0.35e-5},
{"Day":"Sunday","Year":2019,"Hour":0,"Ratio":0.165e-5},{"Day":"Sunday","Year":2019,"Hour":1,"Ratio":0.145e-5},{"Day":"Sunday","Year":2019,"Hour":2,"Ratio":0.15e-5},{"Day":"Sunday","Year":2019,"Hour":3,"Ratio":0.21e-5},{"Day":"Sunday","Year":2019,"Hour":4,"Ratio":0.32e-5},{"Day":"Sunday","Year":2019,"Hour":5,"Ratio":0.46e-5},{"Day":"Sunday","Year":2019,"Hour":6,"Ratio":0.70e-5},{"Day":"Sunday","Year":2019,"Hour":7,"Ratio":0.94e-5},{"Day":"Sunday","Year":2019,"Hour":8,"Ratio":1.17e-5},{"Day":"Sunday","Year":2019,"Hour":9,"Ratio":1.44e-5},{"Day":"Sunday","Year":2019,"Hour":10,"Ratio":1.68e-5},{"Day":"Sunday","Year":2019,"Hour":11,"Ratio":1.81e-5},{"Day":"Sunday","Year":2019,"Hour":12,"Ratio":1.84e-5},{"Day":"Sunday","Year":2019,"Hour":13,"Ratio":1.81e-5},{"Day":"Sunday","Year":2019,"Hour":14,"Ratio":1.73e-5},{"Day":"Sunday","Year":2019,"Hour":15,"Ratio":1.61e-5},{"Day":"Sunday","Year":2019,"Hour":16,"Ratio":1.43e-5},{"Day":"Sunday","Year":2019,"Hour":17,"Ratio":1.23e-5},{"Day":"Sunday","Year":2019,"Hour":18,"Ratio":1.02e-5},{"Day":"Sunday","Year":2019,"Hour":19,"Ratio":0.81e-5},{"Day":"Sunday","Year":2019,"Hour":20,"Ratio":0.58e-5},{"Day":"Sunday","Year":2019,"Hour":21,"Ratio":0.39e-5},{"Day":"Sunday","Year":2019,"Hour":22,"Ratio":0.265e-5},{"Day":"Sunday","Year":2019,"Hour":23,"Ratio":0.168e-5},
{"Day":"Sunday","Year":2020,"Hour":0,"Ratio":0.17e-5},{"Day":"Sunday","Year":2020,"Hour":1,"Ratio":0.148e-5},{"Day":"Sunday","Year":2020,"Hour":2,"Ratio":0.15e-5},{"Day":"Sunday","Year":2020,"Hour":3,"Ratio":0.21e-5},{"Day":"Sunday","Year":2020,"Hour":4,"Ratio":0.32e-5},{"Day":"Sunday","Year":2020,"Hour":5,"Ratio":0.46e-5},{"Day":"Sunday","Year":2020,"Hour":6,"Ratio":0.70e-5},{"Day":"Sunday","Year":2020,"Hour":7,"Ratio":0.94e-5},{"Day":"Sunday","Year":2020,"Hour":8,"Ratio":1.17e-5},{"Day":"Sunday","Year":2020,"Hour":9,"Ratio":1.44e-5},{"Day":"Sunday","Year":2020,"Hour":10,"Ratio":1.68e-5},{"Day":"Sunday","Year":2020,"Hour":11,"Ratio":1.824e-5},{"Day":"Sunday","Year":2020,"Hour":12,"Ratio":1.863e-5},{"Day":"Sunday","Year":2020,"Hour":13,"Ratio":1.83e-5},{"Day":"Sunday","Year":2020,"Hour":14,"Ratio":1.74e-5},{"Day":"Sunday","Year":2020,"Hour":15,"Ratio":1.62e-5},{"Day":"Sunday","Year":2020,"Hour":16,"Ratio":1.44e-5},{"Day":"Sunday","Year":2020,"Hour":17,"Ratio":1.24e-5},{"Day":"Sunday","Year":2020,"Hour":18,"Ratio":1.03e-5},{"Day":"Sunday","Year":2020,"Hour":19,"Ratio":0.82e-5},{"Day":"Sunday","Year":2020,"Hour":20,"Ratio":0.59e-5},{"Day":"Sunday","Year":2020,"Hour":21,"Ratio":0.4e-5},{"Day":"Sunday","Year":2020,"Hour":22,"Ratio":0.27e-5},{"Day":"Sunday","Year":2020,"Hour":23,"Ratio":0.168e-5},
{"Day":"Sunday","Year":2021,"Hour":0,"Ratio":0.18e-5},{"Day":"Sunday","Year":2021,"Hour":1,"Ratio":0.155e-5},{"Day":"Sunday","Year":2021,"Hour":2,"Ratio":0.158e-5},{"Day":"Sunday","Year":2021,"Hour":3,"Ratio":0.215e-5},{"Day":"Sunday","Year":2021,"Hour":4,"Ratio":0.325e-5},{"Day":"Sunday","Year":2021,"Hour":5,"Ratio":0.465e-5},{"Day":"Sunday","Year":2021,"Hour":6,"Ratio":0.70e-5},{"Day":"Sunday","Year":2021,"Hour":7,"Ratio":0.94e-5},{"Day":"Sunday","Year":2021,"Hour":8,"Ratio":1.17e-5},{"Day":"Sunday","Year":2021,"Hour":9,"Ratio":1.45e-5},{"Day":"Sunday","Year":2021,"Hour":10,"Ratio":1.7e-5},{"Day":"Sunday","Year":2021,"Hour":11,"Ratio":1.86e-5},{"Day":"Sunday","Year":2021,"Hour":12,"Ratio":1.95e-5},{"Day":"Sunday","Year":2021,"Hour":13,"Ratio":1.93e-5},{"Day":"Sunday","Year":2021,"Hour":14,"Ratio":1.84e-5},{"Day":"Sunday","Year":2021,"Hour":15,"Ratio":1.7e-5},{"Day":"Sunday","Year":2021,"Hour":16,"Ratio":1.5e-5},{"Day":"Sunday","Year":2021,"Hour":17,"Ratio":1.29e-5},{"Day":"Sunday","Year":2021,"Hour":18,"Ratio":1.06e-5},{"Day":"Sunday","Year":2021,"Hour":19,"Ratio":0.84e-5},{"Day":"Sunday","Year":2021,"Hour":20,"Ratio":0.6e-5},{"Day":"Sunday","Year":2021,"Hour":21,"Ratio":0.41e-5},{"Day":"Sunday","Year":2021,"Hour":22,"Ratio":0.28e-5},{"Day":"Sunday","Year":2021,"Hour":23,"Ratio":0.185e-5},
{"Day":"Sunday","Year":2022,"Hour":0,"Ratio":0.191e-5},{"Day":"Sunday","Year":2022,"Hour":1,"Ratio":0.165e-5},{"Day":"Sunday","Year":2022,"Hour":2,"Ratio":0.165e-5},{"Day":"Sunday","Year":2022,"Hour":3,"Ratio":0.22e-5},{"Day":"Sunday","Year":2022,"Hour":4,"Ratio":0.33e-5},{"Day":"Sunday","Year":2022,"Hour":5,"Ratio":0.47e-5},{"Day":"Sunday","Year":2022,"Hour":6,"Ratio":0.71e-5},{"Day":"Sunday","Year":2022,"Hour":7,"Ratio":0.95e-5},{"Day":"Sunday","Year":2022,"Hour":8,"Ratio":1.18e-5},{"Day":"Sunday","Year":2022,"Hour":9,"Ratio":1.46e-5},{"Day":"Sunday","Year":2022,"Hour":10,"Ratio":1.72e-5},{"Day":"Sunday","Year":2022,"Hour":11,"Ratio":1.87e-5},{"Day":"Sunday","Year":2022,"Hour":12,"Ratio":1.965e-5},{"Day":"Sunday","Year":2022,"Hour":13,"Ratio":1.965e-5},{"Day":"Sunday","Year":2022,"Hour":14,"Ratio":1.87e-5},{"Day":"Sunday","Year":2022,"Hour":15,"Ratio":1.73e-5},{"Day":"Sunday","Year":2022,"Hour":16,"Ratio":1.53e-5},{"Day":"Sunday","Year":2022,"Hour":17,"Ratio":1.31e-5},{"Day":"Sunday","Year":2022,"Hour":18,"Ratio":1.08e-5},{"Day":"Sunday","Year":2022,"Hour":19,"Ratio":0.86e-5},{"Day":"Sunday","Year":2022,"Hour":20,"Ratio":0.62e-5},{"Day":"Sunday","Year":2022,"Hour":21,"Ratio":0.42e-5},{"Day":"Sunday","Year":2022,"Hour":22,"Ratio":0.29e-5},{"Day":"Sunday","Year":2022,"Hour":23,"Ratio":0.201e-5},
{"Day":"Sunday","Year":2023,"Hour":0,"Ratio":0.23e-5},{"Day":"Sunday","Year":2023,"Hour":1,"Ratio":0.19e-5},{"Day":"Sunday","Year":2023,"Hour":2,"Ratio":0.18e-5},{"Day":"Sunday","Year":2023,"Hour":3,"Ratio":0.23e-5},{"Day":"Sunday","Year":2023,"Hour":4,"Ratio":0.34e-5},{"Day":"Sunday","Year":2023,"Hour":5,"Ratio":0.48e-5},{"Day":"Sunday","Year":2023,"Hour":6,"Ratio":0.72e-5},{"Day":"Sunday","Year":2023,"Hour":7,"Ratio":0.96e-5},{"Day":"Sunday","Year":2023,"Hour":8,"Ratio":1.19e-5},{"Day":"Sunday","Year":2023,"Hour":9,"Ratio":1.47e-5},{"Day":"Sunday","Year":2023,"Hour":10,"Ratio":1.73e-5},{"Day":"Sunday","Year":2023,"Hour":11,"Ratio":1.9e-5},{"Day":"Sunday","Year":2023,"Hour":12,"Ratio":2.008e-5},{"Day":"Sunday","Year":2023,"Hour":13,"Ratio":1.988e-5},{"Day":"Sunday","Year":2023,"Hour":14,"Ratio":1.889e-5},{"Day":"Sunday","Year":2023,"Hour":15,"Ratio":1.75e-5},{"Day":"Sunday","Year":2023,"Hour":16,"Ratio":1.55e-5},{"Day":"Sunday","Year":2023,"Hour":17,"Ratio":1.33e-5},{"Day":"Sunday","Year":2023,"Hour":18,"Ratio":1.1e-5},{"Day":"Sunday","Year":2023,"Hour":19,"Ratio":0.88e-5},{"Day":"Sunday","Year":2023,"Hour":20,"Ratio":0.64e-5},{"Day":"Sunday","Year":2023,"Hour":21,"Ratio":0.44e-5},{"Day":"Sunday","Year":2023,"Hour":22,"Ratio":0.31e-5},{"Day":"Sunday","Year":2023,"Hour":23,"Ratio":0.215e-5},
{"Day":"Sunday","Year":2024,"Hour":0,"Ratio":0.251e-5},{"Day":"Sunday","Year":2024,"Hour":1,"Ratio":0.201e-5},{"Day":"Sunday","Year":2024,"Hour":2,"Ratio":0.188e-5},{"Day":"Sunday","Year":2024,"Hour":3,"Ratio":0.234e-5},{"Day":"Sunday","Year":2024,"Hour":4,"Ratio":0.34e-5},{"Day":"Sunday","Year":2024,"Hour":5,"Ratio":0.478e-5},{"Day":"Sunday","Year":2024,"Hour":6,"Ratio":0.722e-5},{"Day":"Sunday","Year":2024,"Hour":7,"Ratio":0.953e-5},{"Day":"Sunday","Year":2024,"Hour":8,"Ratio":1.16e-5},{"Day":"Sunday","Year":2024,"Hour":9,"Ratio":1.434e-5},{"Day":"Sunday","Year":2024,"Hour":10,"Ratio":1.685e-5},{"Day":"Sunday","Year":2024,"Hour":11,"Ratio":1.846e-5},{"Day":"Sunday","Year":2024,"Hour":12,"Ratio":1.896e-5},{"Day":"Sunday","Year":2024,"Hour":13,"Ratio":1.866e-5},{"Day":"Sunday","Year":2024,"Hour":14,"Ratio":1.757e-5},{"Day":"Sunday","Year":2024,"Hour":15,"Ratio":1.639e-5},{"Day":"Sunday","Year":2024,"Hour":16,"Ratio":1.448e-5},{"Day":"Sunday","Year":2024,"Hour":17,"Ratio":1.25e-5},{"Day":"Sunday","Year":2024,"Hour":18,"Ratio":1.06e-5},{"Day":"Sunday","Year":2024,"Hour":19,"Ratio":0.854e-5},{"Day":"Sunday","Year":2024,"Hour":20,"Ratio":0.623e-5},{"Day":"Sunday","Year":2024,"Hour":21,"Ratio":0.425e-5},{"Day":"Sunday","Year":2024,"Hour":22,"Ratio":0.307e-5},{"Day":"Sunday","Year":2024,"Hour":23,"Ratio":0.224e-5}
]},
"hconcat":[
{"width":507,"height":1261,"title":{"text":"Weekday","offset":-22.7},
 "layer":[
  {"transform":[{"filter":"datum.Day === 'Weekday'"}],
   "mark":{"type":"line","strokeCap":"round","strokeJoin":"round"},
   "encoding":{
    "x":{"field":"Hour","type":"quantitative","scale":{"domain":[-10,30],"nice":false,"zero":false},"axis":{"values":[-10,30],"title":"Hour","labelExpr":"replace(datum.label,'-','−')"}},
    "y":{"field":"Ratio","type":"quantitative","scale":{"domain":[0,2.495e-5],"nice":false,"zero":false},"axis":{"values":[0,0.5e-5,1e-5,1.5e-5,2e-5],"title":"Ratio","labelExpr":"format(datum.value*1e5,'.1f')"}},
    "color":{"field":"Year","type":"ordinal","scale":{"range":["#f6b48f","#f37651","#e13342","#ad1759","#701f57","#35193e"]},"legend":{"title":"Year","orient":"none","legendX":2079,"legendY":-8}},
    "strokeWidth":{"field":"Year","type":"ordinal","scale":{"range":[2.6,8.8]},"legend":{"title":"Year","orient":"none","legendX":2079,"legendY":-8}}
   }},
  {"data":{"values":[{"label":"1e−5"}]},
   "mark":{"type":"text","align":"left","baseline":"alphabetic","fontSize":28,"dx":1,"dy":-4,"color":"#262626","font":"DejaVu Sans"},
   "encoding":{"x":{"datum":-10,"type":"quantitative"},"y":{"datum":2.495e-5,"type":"quantitative"},"text":{"field":"label"}}}
 ]},
{"width":507,"height":1261,"title":{"text":"Friday"},
 "transform":[{"filter":"datum.Day === 'Friday'"}],
 "mark":{"type":"line","strokeCap":"round","strokeJoin":"round"},
 "encoding":{
  "x":{"field":"Hour","type":"quantitative","scale":{"domain":[-10,30],"nice":false,"zero":false},"axis":{"values":[-10,30],"title":"Hour","labelExpr":"replace(datum.label,'-','−')"}},
  "y":{"field":"Ratio","type":"quantitative","scale":{"domain":[0,2.495e-5],"nice":false,"zero":false},"axis":{"values":[0,0.5e-5,1e-5,1.5e-5,2e-5],"title":null,"labels":false}},
  "color":{"field":"Year","type":"ordinal","legend":{"title":"Year","orient":"none","legendX":2079,"legendY":-8}},
  "strokeWidth":{"field":"Year","type":"ordinal","legend":{"title":"Year","orient":"none","legendX":2079,"legendY":-8}}
 }},
{"width":507,"height":1261,"title":{"text":"Saturday"},
 "transform":[{"filter":"datum.Day === 'Saturday'"}],
 "mark":{"type":"line","strokeCap":"round","strokeJoin":"round"},
 "encoding":{
  "x":{"field":"Hour","type":"quantitative","scale":{"domain":[-10,30],"nice":false,"zero":false},"axis":{"values":[-10,30],"title":"Hour","labelExpr":"replace(datum.label,'-','−')"}},
  "y":{"field":"Ratio","type":"quantitative","scale":{"domain":[0,2.495e-5],"nice":false,"zero":false},"axis":{"values":[0,0.5e-5,1e-5,1.5e-5,2e-5],"title":null,"labels":false}},
  "color":{"field":"Year","type":"ordinal","legend":{"title":"Year","orient":"none","legendX":2079,"legendY":-8}},
  "strokeWidth":{"field":"Year","type":"ordinal","legend":{"title":"Year","orient":"none","legendX":2079,"legendY":-8}}
 }},
{"width":507,"height":1261,"title":{"text":"Sunday"},
 "transform":[{"filter":"datum.Day === 'Sunday'"}],
 "mark":{"type":"line","strokeCap":"round","strokeJoin":"round"},
 "encoding":{
  "x":{"field":"Hour","type":"quantitative","scale":{"domain":[-10,30],"nice":false,"zero":false},"axis":{"values":[-10,30],"title":"Hour","labelExpr":"replace(datum.label,'-','−')"}},
  "y":{"field":"Ratio","type":"quantitative","scale":{"domain":[0,2.495e-5],"nice":false,"zero":false},"axis":{"values":[0,0.5e-5,1e-5,1.5e-5,2e-5],"title":null,"labels":false}},
  "color":{"field":"Year","type":"ordinal","legend":{"title":"Year","orient":"none","legendX":2079,"legendY":-8}},
  "strokeWidth":{"field":"Year","type":"ordinal","legend":{"title":"Year","orient":"none","legendX":2079,"legendY":-8}}
 }}
],
"config":{
 "font":"DejaVu Sans",
 "view":{"stroke":null},
 "axis":{"domainColor":"#262626","domainWidth":3.5,"tickColor":"#262626","tickWidth":3.5,"tickSize":19,"labelFontSize":27,"labelColor":"#262626","labelFont":"DejaVu Sans","titleFont":"DejaVu Sans","titleFontSize":32,"titleFontWeight":"normal","titleColor":"#262626","grid":false,"labelFlush":false,"labelOverlap":false},
 "axisX":{"labelPadding":8,"titlePadding":11},
 "axisY":{"labelPadding":10,"titlePadding":7},
 "title":{"fontSize":32,"fontWeight":"normal","color":"#262626","font":"DejaVu Sans","frame":"group","anchor":"middle","offset":4},
 "legend":{"titleFontSize":36,"titleFontWeight":"normal","titleColor":"#262626","titleFont":"DejaVu Sans","labelFont":"DejaVu Sans","labelFontSize":42,"labelColor":"#262626","titleAnchor":"middle","titleAlign":"center","titleBaseline":"line-top","titleLineHeight":43,"symbolType":"stroke","symbolSize":7500,"labelOffset":26,"strokeColor":"#cccccc","cornerRadius":7,"padding":13,"fillColor":"#ffffff","clipHeight":44,"rowPadding":19,"titlePadding":22}
}
}
